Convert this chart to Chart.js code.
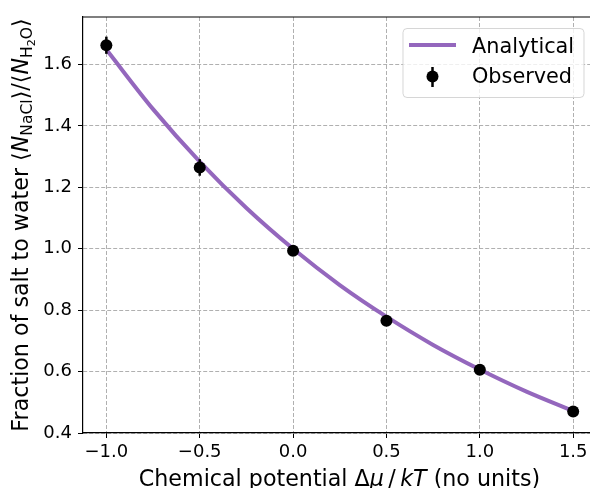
<!DOCTYPE html>
<html>
<head>
<meta charset="utf-8">
<script src="https://cdn.jsdelivr.net/npm/chart.js@4"></script>
<style>
  html, body { margin: 0; padding: 0; background: #fff; }
  #wrap { width: 590px; height: 488px; }
</style>
</head>
<body>
<div id="wrap"><canvas id="chart" width="590" height="488"></canvas></div>
<script>
// 데이터 — 그림에서 읽은 값
const xTicks = [-1.0, -0.5, 0.0, 0.5, 1.0, 1.5];
const yTicks = [0.4, 0.6, 0.8, 1.0, 1.2, 1.4, 1.6];

const obsMu    = [-1.0, -0.5, 0.0, 0.5, 1.0, 1.5];
const obsRatio = [1.663, 1.265, 0.994, 0.766, 0.606, 0.470];
const obsErr   = [0.028, 0.027, 0.012, 0.015, 0.010, 0.010];

const curveMu    = [-1.0, -0.75, -0.5, -0.25, 0.0, 0.25, 0.5, 0.75, 1.0, 1.25, 1.5];
const curveRatio = [1.649, 1.455, 1.284, 1.133, 1.0, 0.882, 0.779, 0.687, 0.607, 0.535, 0.472];

const palette = {
  line: '#9467bd',
  mark: '#000000',
  grid: '#b0b0b0',
  text: '#000000'
};
const FONT = "'DejaVu Sans', sans-serif";

// 텍스트 조각(이탤릭/첨자)을 순서대로 그림
function drawRuns(ctx, runs, size) {
  const pieces = runs.map(r => {
    const s = size * (r.scale || 1);
    const font = (r.italic ? 'italic ' : '') + s + 'px ' + FONT;
    ctx.font = font;
    return { text: r.text, font, w: ctx.measureText(r.text).width, dy: (r.dy || 0) * size };
  });
  const total = pieces.reduce((a, p) => a + p.w, 0);
  let x = -total / 2;
  pieces.forEach(p => {
    ctx.font = p.font;
    ctx.fillText(p.text, x, p.dy);
    x += p.w;
  });
}

const axisTitles = {
  id: 'axisTitles',
  afterDraw(chart) {
    const { ctx, chartArea: a } = chart;
    ctx.save();
    ctx.fillStyle = palette.text;
    ctx.textBaseline = 'alphabetic';
    ctx.textAlign = 'left';

    // x 축 제목 (원본 축은 오른쪽이 잘려 있음: 축 중심 ≈ 339px)
    ctx.save();
    ctx.translate((a.left + 596) / 2, 485.5);
    drawRuns(ctx, [
      { text: 'Chemical potential \u0394' },
      { text: '\u03bc', italic: true },
      { text: '\u2009/\u2009' },
      { text: 'kT', italic: true },
      { text: ' (no units)' }
    ], 22.2);
    ctx.restore();

    // y 축 제목
    ctx.save();
    ctx.translate(28, (a.top + a.bottom) / 2);
    ctx.rotate(-Math.PI / 2);
    drawRuns(ctx, [
      { text: 'Fraction of salt to water \u27e8' },
      { text: 'N', italic: true },
      { text: 'NaCl', scale: 0.7, dy: 0.2 },
      { text: '\u27e9/\u27e8' },
      { text: 'N', italic: true },
      { text: 'H', scale: 0.7, dy: 0.2 },
      { text: '2', scale: 0.5, dy: 0.32 },
      { text: 'O', scale: 0.7, dy: 0.2 },
      { text: '\u27e9' }
    ], 22.2);
    ctx.restore();

    // 위쪽 테두리
    ctx.strokeStyle = '#000';
    ctx.lineWidth = 1.2;
    ctx.beginPath();
    ctx.moveTo(a.left, a.top);
    ctx.lineTo(a.right, a.top);
    ctx.stroke();
    ctx.restore();
  }
};

// 오차 막대 — 스케일을 통해 픽셀 변환
const errorBars = {
  id: 'errorBars',
  beforeDatasetDraw(chart, args) {
    if (args.index !== 1) return;
    const { ctx, scales: { x, y }, chartArea: a } = chart;
    ctx.save();
    ctx.beginPath();
    ctx.rect(a.left, a.top, a.right - a.left, a.bottom - a.top);
    ctx.clip();
    ctx.strokeStyle = palette.mark;
    ctx.lineWidth = 2.5;
    obsMu.forEach((m, i) => {
      const px = x.getPixelForValue(m);
      ctx.beginPath();
      ctx.moveTo(px, y.getPixelForValue(obsRatio[i] - obsErr[i]));
      ctx.lineTo(px, y.getPixelForValue(obsRatio[i] + obsErr[i]));
      ctx.stroke();
    });
    ctx.restore();
  }
};

const legendBox = {
  id: 'legendBox',
  afterDraw(chart) {
    const { ctx } = chart;
    const ds = chart.data.datasets;
    const l = 403, t = 28.5, w = 181, h = 69, r = 4;
    ctx.save();
    ctx.fillStyle = 'rgba(255,255,255,0.8)';
    ctx.strokeStyle = 'rgba(204,204,204,0.8)';
    ctx.lineWidth = 1;
    ctx.beginPath();
    ctx.roundRect(l, t, w, h, r);
    ctx.fill();
    ctx.stroke();

    ctx.strokeStyle = palette.line;
    ctx.lineWidth = 4;
    ctx.beginPath();
    ctx.moveTo(409, 45);
    ctx.lineTo(456, 45);
    ctx.stroke();

    ctx.strokeStyle = palette.mark;
    ctx.lineWidth = 2.5;
    ctx.beginPath();
    ctx.moveTo(432.5, 67);
    ctx.lineTo(432.5, 87);
    ctx.stroke();
    ctx.fillStyle = palette.mark;
    ctx.beginPath();
    ctx.arc(432.5, 76.5, 6, 0, Math.PI * 2);
    ctx.fill();

    ctx.fillStyle = palette.text;
    ctx.font = '20.8px ' + FONT;
    ctx.textBaseline = 'alphabetic';
    ctx.fillText(ds[0].label, 472, 53);
    ctx.fillText(ds[1].label, 472, 83);
    ctx.restore();
  }
};

const fmt = v => (v < 0 ? '\u2212' : '') + Math.abs(v).toFixed(1);

new Chart(document.getElementById('chart').getContext('2d'), {
  type: 'scatter',
  data: {
    datasets: [
      {
        type: 'line',
        label: 'Analytical',
        data: curveMu.map((m, i) => ({ x: m, y: curveRatio[i] })),
        borderColor: palette.line,
        borderWidth: 4,
        pointRadius: 0,
        cubicInterpolationMode: 'monotone',
        fill: false,
        order: 2
      },
      {
        label: 'Observed',
        data: obsMu.map((m, i) => ({ x: m, y: obsRatio[i] })),
        backgroundColor: palette.mark,
        borderWidth: 0,
        pointRadius: 6,
        order: 1
      }
    ]
  },
  options: {
    responsive: false,
    animation: false,
    layout: { autoPadding: false, padding: { top: 17, right: 0, left: 0, bottom: 0 } },
    plugins: { legend: { display: false }, tooltip: { enabled: false } },
    scales: {
      x: {
        type: 'linear',
        min: -1.125, max: 1.59,
        afterBuildTicks: s => { s.ticks = xTicks.map(v => ({ value: v })); },
        afterFit: s => { s.height = 55; s.paddingLeft = 0; s.paddingRight = 0; },
        ticks: { callback: fmt, color: palette.text, font: { family: FONT, size: 18 }, padding: 4, maxRotation: 0 },
        grid: { color: palette.grid, lineWidth: 1, tickLength: 5, tickColor: '#000', tickWidth: 1 },
        border: { display: true, color: '#000', width: 1.2, dash: [4, 2] }
      },
      y: {
        type: 'linear',
        min: 0.4, max: 1.755,
        afterBuildTicks: s => { s.ticks = yTicks.map(v => ({ value: v })); },
        afterFit: s => { s.width = 83; s.paddingTop = 0; s.paddingBottom = 0; },
        ticks: { callback: fmt, color: palette.text, font: { family: FONT, size: 18 }, padding: 6 },
        grid: { color: palette.grid, lineWidth: 1, tickLength: 5, tickColor: '#000', tickWidth: 1 },
        border: { display: true, color: '#000', width: 1.2, dash: [4, 2] }
      }
    }
  },
  plugins: [errorBars, axisTitles, legendBox]
});
</script>
</body>
</html>
